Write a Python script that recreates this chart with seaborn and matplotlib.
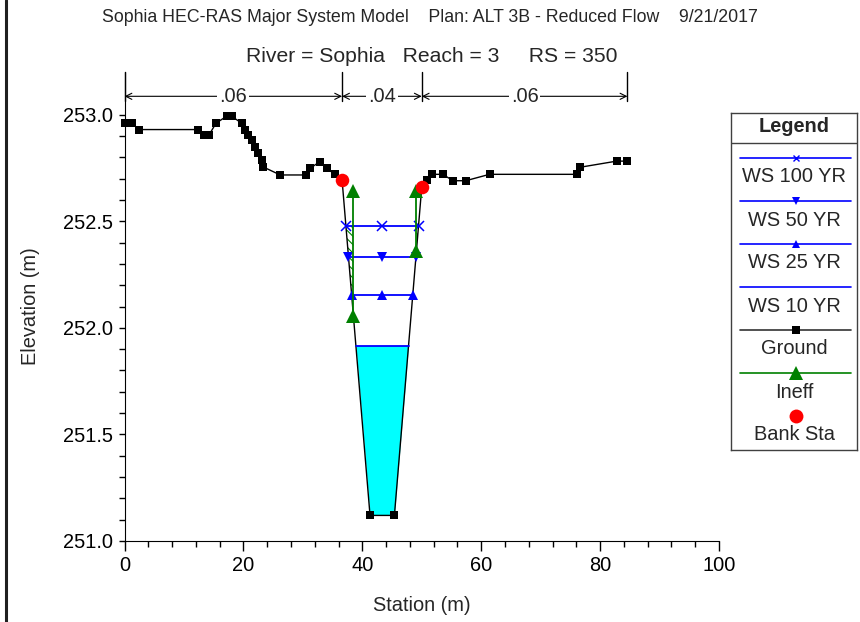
import numpy as np
import matplotlib
matplotlib.use('Agg')
import matplotlib.pyplot as plt
import seaborn as sns
from matplotlib.lines import Line2D

# Ground profile (station m, elevation m)
ground_sta = [0.0, 1.2, 2.5, 12.4, 13.4, 14.2, 15.4, 17.2, 18.0, 19.7, 20.3, 20.8,
              21.4, 22.0, 22.5, 23.1, 23.3, 26.2, 30.6, 31.2, 32.9, 34.0, 35.4, 36.6,
              41.3, 45.4, 50.0, 50.8, 51.8, 53.5, 55.3, 57.4, 61.4, 76.1, 76.6, 82.8, 84.6]
ground_elev = [252.96, 252.96, 252.93, 252.93, 252.904, 252.904, 252.96, 252.993, 252.993,
               252.96, 252.93, 252.904, 252.88, 252.85, 252.82, 252.787, 252.755, 252.717,
               252.717, 252.748, 252.78, 252.748, 252.72, 252.693, 251.12, 251.12, 252.66,
               252.693, 252.72, 252.72, 252.69, 252.69, 252.72, 252.72, 252.753, 252.782, 252.782]

bank_sta = [36.6, 50.0]

ws_names = ['WS 100 YR', 'WS 50 YR', 'WS 25 YR', 'WS 10 YR']
ws_elev = [252.479, 252.334, 252.155, 251.917]
ws_markers = ['x', 'v', '^', None]

ineff_sta = [38.5, 49.1]
ineff_elev = 252.64

n_breaks = [0.0, 36.6, 50.0, 84.6]
n_values = ['.06', '.04', '.06']

FS = 14.4
BLUE = '#0000FF'
GREEN = '#008000'
sns.set_style('ticks')
plt.rcParams['font.family'] = ['Liberation Sans', 'DejaVu Sans']
plt.rcParams['hatch.linewidth'] = 0.8

fig = plt.figure(figsize=(8.6, 6.22), dpi=100)
ax = fig.add_axes([124.5 / 860, 1 - 541 / 622, 594.5 / 860, 469 / 622])

gx = np.array(ground_sta)
gy = np.array(ground_elev)
ib = int(np.argmin(gy))
jb = ib + 1
lb = ground_sta.index(bank_sta[0])
rb = ground_sta.index(bank_sta[1])


def left_x(y):
    return np.interp(y, gy[lb:ib + 1][::-1], gx[lb:ib + 1][::-1])


def right_x(y):
    return np.interp(y, gy[jb:rb + 1], gx[jb:rb + 1])


# water (lowest profile) fill
ax.fill_between(gx, gy, ws_elev[3], where=gy <= ws_elev[3], interpolate=True,
                color='#00FFFF', lw=0, zorder=1)

# ineffective hatch below the highest profile
g_l = np.interp(ineff_sta[0], gx, gy)
g_r = np.interp(ineff_sta[1], gx, gy)
ys = np.linspace(g_l, ws_elev[0], 40)
ax.fill_betweenx(ys, left_x(ys), ineff_sta[0], facecolor='none', edgecolor=GREEN,
                 hatch='\\\\\\\\', lw=0, zorder=2)
ys = np.linspace(g_r, ws_elev[0], 20)
ax.fill_betweenx(ys, ineff_sta[1], right_x(ys), facecolor='none', edgecolor=GREEN,
                 hatch='\\\\\\\\', lw=0, zorder=2)

# ground
sns.lineplot(x=ground_sta, y=ground_elev, ax=ax, color='black', lw=1, marker='s',
             markersize=6.3, markeredgewidth=0, estimator=None, sort=False,
             zorder=4, clip_on=False)

# water surfaces
for name, e, m in zip(ws_names, ws_elev, ws_markers):
    xl, xr = left_x(e), right_x(e)
    if m is None:
        sns.lineplot(x=[xl, xr], y=[e, e], ax=ax, color=BLUE, lw=1.3,
                     estimator=None, sort=False, zorder=5)
    else:
        kw = dict(markersize=6.5, markeredgewidth=1.1) if m == 'x' else dict(markersize=7, markeredgewidth=0)
        sns.lineplot(x=[xl, (xl + xr) / 2, xr], y=[e] * 3, ax=ax, color=BLUE, lw=1.3,
                     marker=m, markeredgecolor=BLUE, estimator=None, sort=False,
                     zorder=5, **kw)

# ineffective flow limits
for s in ineff_sta:
    g = np.interp(s, gx, gy)
    ax.plot([s, s], [g, ineff_elev], color=GREEN, lw=1.3, marker='^',
            markersize=9.5, markeredgewidth=0, zorder=6)

# bank stations
sns.scatterplot(x=bank_sta, y=np.interp(bank_sta, gx, gy), ax=ax, color='#FF0000',
                s=95, linewidth=0, zorder=7)

# Manning's n divisions
y_arrow = 253.086
for b in n_breaks:
    ax.plot([b, b], [253.065, 253.2], color='black', lw=1, zorder=3, clip_on=False)
for a, b, t in zip(n_breaks[:-1], n_breaks[1:], n_values):
    ax.annotate('', xy=(b, y_arrow), xytext=(a, y_arrow),
                arrowprops=dict(arrowstyle='<->', lw=0.8, color='black',
                                shrinkA=0, shrinkB=0, mutation_scale=11))
    ax.text((a + b) / 2, y_arrow, t, ha='center', va='center', fontsize=FS,
            bbox=dict(facecolor='white', edgecolor='none', pad=1.5))

ax.set_xlim(0, 100)
ax.set_ylim(251.0, 253.2)
ax.set_xticks(np.arange(0, 101, 20))
ax.set_xticks(np.arange(0, 101, 4), minor=True)
ax.set_yticks(np.arange(251.0, 253.01, 0.5))
ax.set_yticks(np.arange(251.0, 253.01, 0.1), minor=True)
ax.yaxis.set_major_formatter(matplotlib.ticker.FormatStrFormatter('%.1f'))
ax.tick_params(axis='both', which='both', direction='out', colors='black',
               labelsize=FS, width=1)
ax.tick_params(axis='x', which='major', length=7)
ax.tick_params(axis='x', which='minor', length=4.5)
ax.tick_params(axis='y', which='both', length=4.5)
ax.spines['top'].set_visible(False)
ax.spines['right'].set_visible(False)
ax.spines['left'].set_color('black')
ax.spines['bottom'].set_color('black')
ax.set_xlabel('Station (m)', fontsize=FS)
ax.set_ylabel('Elevation (m)', fontsize=FS)
ax.xaxis.set_label_coords(0.5, -0.118)
ax.yaxis.set_label_coords(-0.142, 0.5)
ax.patch.set_alpha(0)

# titles
fig.text(0.5, 1 - 18 / 622,
         'Sophia HEC-RAS Major System Model    Plan: ALT 3B - Reduced Flow    9/21/2017',
         ha='center', va='center', fontsize=12.8)
fig.text(0.502, 1 - 56 / 622, 'River = Sophia   Reach = 3     RS = 350',
         ha='center', va='center', fontsize=15.2)

# left border of the plot window
fig.add_artist(Line2D([5.5 / 860, 5.5 / 860], [0, 1], transform=fig.transFigure,
                      color='#202020', lw=2.2))

# legend panel
lax = fig.add_axes([731 / 860, 1 - 450 / 622, 126 / 860, 337 / 622])
lax.set_xlim(0, 126)
lax.set_ylim(337, 0)
lax.set_xticks([])
lax.set_yticks([])
for sp in lax.spines.values():
    sp.set_color('#404040')
    sp.set_linewidth(1)
lax.text(63, 14, 'Legend', ha='center', va='center', fontsize=FS, fontweight='bold')
lax.plot([0, 126], [30, 30], color='#404040', lw=1)

leg_items = ws_names + ['Ground', 'Ineff', 'Bank Sta']
leg_colors = [BLUE] * 4 + ['#333333', GREEN, None]
leg_markers = ['x', 'v', '^', None, 's', '^', 'o']
leg_mcolors = [BLUE] * 4 + ['black', GREEN, '#FF0000']
leg_msize = [4.5, 6, 6, 0, 5.5, 10, 10]
for i, (lab, c, m, mc, ms) in enumerate(zip(leg_items, leg_colors, leg_markers,
                                            leg_mcolors, leg_msize)):
    yl = 45 + 43 * i
    if c is not None:
        lax.plot([9, 120], [yl, yl], color=c, lw=1.2)
    if m is not None:
        lax.plot([64.5], [yl], marker=m, color=mc, markersize=ms,
                 markeredgewidth=1 if m == 'x' else 0)
    lax.text(63, yl + 19, lab, ha='center', va='center', fontsize=FS)

fig.savefig('out.png', dpi=100)
